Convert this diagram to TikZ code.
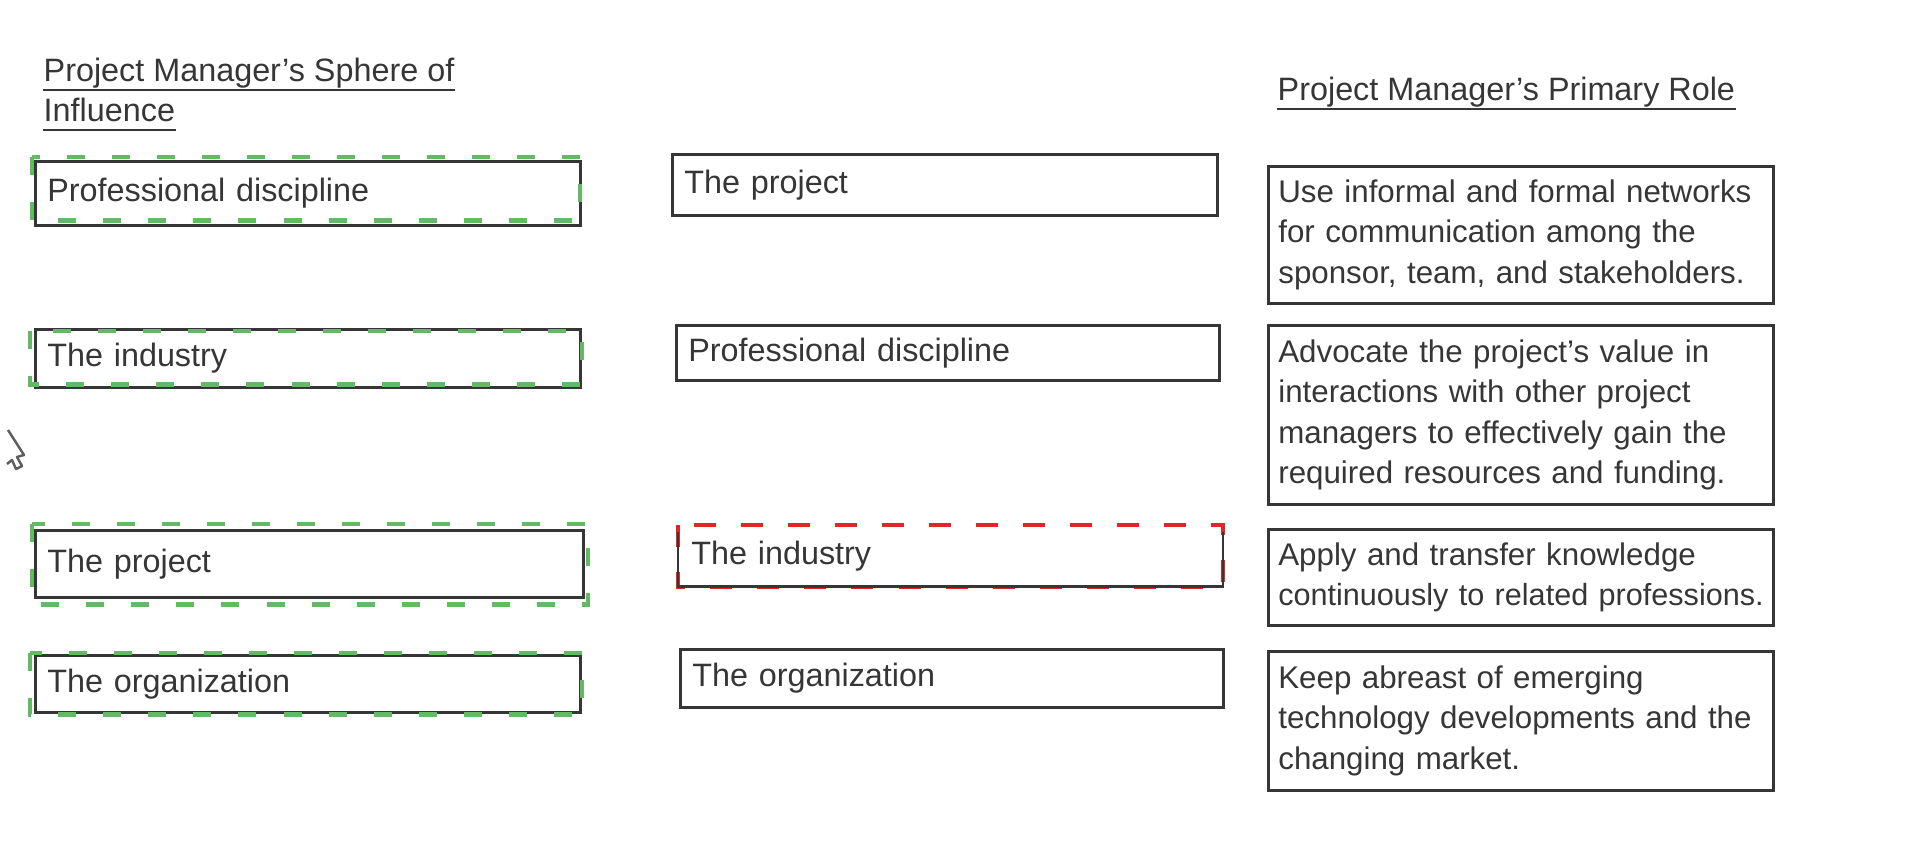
\documentclass[tikz,border=0pt]{standalone}
\usepackage{fontspec}
\setmainfont{Liberation Sans}
\definecolor{ink}{HTML}{363636}
\definecolor{pickgreen}{HTML}{64B964}
\definecolor{wrongred}{HTML}{E0262A}
\begin{document}
\begin{tikzpicture}[x=0.01cm,y=-0.01cm,
  font=\fontsize{9.2}{11.4}\selectfont, text=ink,
  head/.style={inner sep=0pt, anchor=base west},
  uline/.style={draw=ink, line width=0.6pt},
  choice/.style={draw=ink, line width=0.75pt, anchor=north west,
    inner xsep=0.12cm, inner ysep=0pt, align=left},
  role/.style={draw=ink, line width=0.75pt, anchor=north west,
    minimum width=5.05cm, text width=4.85cm, inner xsep=0.1cm,
    align=left, font=\fontsize{8.9}{11.4}\selectfont},
  pick/.style={draw=pickgreen, line width=1.3pt, dash pattern=on 0.18cm off 0.27cm},
  wrong/.style={draw=wrongred, line width=1.1pt, dash pattern=on 0.22cm off 0.25cm}]
\useasboundingbox[fill=white] (0,0) rectangle (1916,846);

% Column headings
\node[head] (hdA) at (43,82) {Project Manager's Sphere of};
\node[head] (hdB) at (43,122) {Influence};
\node[head] (hdC) at (1277,101) {Project Manager's Primary Role};
\draw[uline] ([yshift=-2.3pt]hdA.base west) -- ([yshift=-2.3pt]hdA.base east);
\draw[uline] ([yshift=-2.3pt]hdB.base west) -- ([yshift=-2.3pt]hdB.base east);
\draw[uline] ([yshift=-2.2pt]hdC.base west) -- ([yshift=-2.2pt]hdC.base east);

% Left column: the answers placed
\node[choice, text width=5.21cm, minimum height=0.64cm] (L1) at (34,160) {Professional discipline};
\node[choice, text width=5.21cm, minimum height=0.58cm] (L2) at (34,328) {The industry};
\node[choice, text width=5.24cm, minimum height=0.67cm] (L3) at (34,529) {The project};
\node[choice, text width=5.21cm, minimum height=0.57cm] (L4) at (34,654) {The organization};
\draw[pick] ([shift={(-2,-3)}]L1.north west) rectangle ([shift={(-2,-6)}]L1.south east);
\draw[pick] ([shift={(-4,3)}]L2.north west) rectangle ([shift={(0,-4)}]L2.south east);
\draw[pick] ([shift={(-2,-5)}]L3.north west) rectangle ([shift={(3,6)}]L3.south east);
\draw[pick] ([shift={(-4,-1)}]L4.north west) rectangle ([shift={(0,1)}]L4.south east);

% Middle column: the options
\node[choice, text width=5.21cm, minimum height=0.61cm] (M1) at (671,153) {The project};
\node[choice, text width=5.19cm, minimum height=0.55cm] (M2) at (675,324) {Professional discipline};
\node[choice, draw=none, text width=5.18cm, minimum height=0.59cm] (M3) at (678,525) {The industry};
\node[choice, text width=5.19cm, minimum height=0.58cm] (M4) at (679,648) {The organization};
\draw[wrong] (M3.north west) rectangle (M3.south east);
\draw[draw=ink, line width=0.75pt] ([yshift=-2pt]M3.north west) |- (M3.south east) -- ([yshift=-2pt]M3.north east);

% Right column: the roles
\node[role, minimum height=1.37cm] (R1) at (1267,165)
  {Use informal and formal networks\\ for communication among the\\ sponsor, team, and stakeholders.};
\node[role, minimum height=1.79cm] (R2) at (1267,324)
  {Advocate the project's value in\\ interactions with other project\\ managers to effectively gain the\\ required resources and funding.};
\node[role, minimum height=0.96cm] (R3) at (1267,528)
  {Apply and transfer knowledge\\ \mbox{\fontsize{8.7}{11.4}\selectfont continuously to related professions.}};
\node[role, minimum height=1.39cm] (R4) at (1267,650)
  {Keep abreast of emerging\\ technology developments and the\\ changing market.};

% Mouse pointer left of the boxes
\draw[ink!80, line width=0.7pt, line join=round] (8,430) -- (24,455) -- (17,457) -- (22,466) -- (16,469) -- (12,460) -- (7,464);

\end{tikzpicture}
\end{document}
